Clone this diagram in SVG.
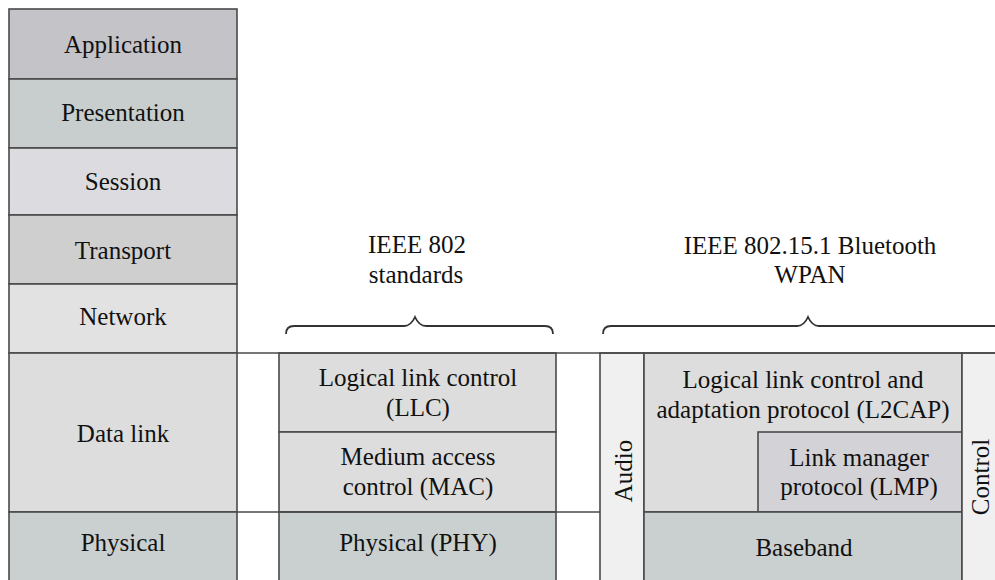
<svg xmlns="http://www.w3.org/2000/svg" width="995" height="580" viewBox="0 0 995 580">
<style>
.b{stroke:#4a4a4a;stroke-width:1.6}
.t{font-family:"Liberation Serif","Times New Roman",serif;font-size:25px;fill:#111111;text-anchor:middle}
.br{fill:none;stroke:#333;stroke-width:1.8}
.ln{stroke:#4a4a4a;stroke-width:1.6;fill:none}
</style>
<rect width="995" height="580" fill="#ffffff"/>
<g id="osi">
<g id="application"><rect class="b" x="9" y="9" width="228" height="70" fill="#c4c3c8"/><text class="t" x="123" y="53">Application</text></g>
<g id="presentation"><rect class="b" x="9" y="79" width="228" height="69" fill="#c8cecd"/><text class="t" x="123" y="121">Presentation</text></g>
<g id="session"><rect class="b" x="9" y="148" width="228" height="67" fill="#dcdce0"/><text class="t" x="123" y="190">Session</text></g>
<g id="transport"><rect class="b" x="9" y="215" width="228" height="69" fill="#cfcfcf"/><text class="t" x="123" y="259">Transport</text></g>
<g id="network"><rect class="b" x="9" y="284" width="228" height="69" fill="#e2e2e2"/><text class="t" x="123" y="325">Network</text></g>
<g id="datalink"><rect class="b" x="9" y="353" width="228" height="159" fill="#dddddd"/><text class="t" x="123" y="442">Data link</text></g>
<g id="physical"><rect class="b" x="9" y="512" width="228" height="80" fill="#cad0d0"/><text class="t" x="123" y="551">Physical</text></g>
</g>
<g id="ieee802">
<g id="ieee802-label"><text class="t" x="417" y="253">IEEE 802</text><text class="t" x="416" y="283">standards</text></g>
<g id="llc"><rect class="b" x="279" y="353" width="277" height="79" fill="#dddddd"/><text class="t" x="418" y="386">Logical link control</text><text class="t" x="418" y="416">(LLC)</text></g>
<g id="mac"><rect class="b" x="279" y="432" width="277" height="80" fill="#dddddd"/><text class="t" x="418" y="465">Medium access</text><text class="t" x="418" y="495">control (MAC)</text></g>
<g id="phy"><rect class="b" x="279" y="512" width="277" height="80" fill="#cad0d0"/><text class="t" x="418" y="551">Physical (PHY)</text></g>
</g>
<g id="bluetooth">
<g id="bt-label"><text class="t" x="810" y="254">IEEE 802.15.1 Bluetooth</text><text class="t" x="810" y="283">WPAN</text></g>
<g id="audio"><rect class="b" x="600" y="353" width="44" height="240" fill="#f0f0f0"/><text class="t" transform="translate(632 471) rotate(-90)">Audio</text></g>
<g id="l2cap"><rect class="b" x="644" y="353" width="318" height="159" fill="#dddddd"/><text class="t" x="803" y="388">Logical link control and</text><text class="t" x="803" y="418">adaptation protocol (L2CAP)</text></g>
<g id="lmp"><rect class="b" x="758" y="432" width="204" height="80" fill="#d3d3d7"/><text class="t" x="859" y="466">Link manager</text><text class="t" x="859" y="495">protocol (LMP)</text></g>
<g id="baseband"><rect class="b" x="644" y="512" width="318" height="80" fill="#cad0d0"/><text class="t" x="804" y="556">Baseband</text></g>
<g id="control"><rect class="b" x="962" y="353" width="50" height="240" fill="#f0f0f0"/><text class="t" transform="translate(989 477) rotate(-90)">Control</text></g>
</g>
<g id="connectors">
<line class="ln" x1="237" y1="353" x2="995" y2="353"/>
<line class="ln" x1="237" y1="512" x2="600" y2="512"/>
<path class="br" d="M286 334 Q286 326 294 326 L404 326 Q411 326 415 317 Q419 326 426 326 L545 326 Q553 326 553 334"/>
<path class="br" d="M603 334 Q603 326 611 326 L797 326 Q804 326 808 317 Q812 326 819 326 L1000 326"/>
</g>
</svg>
